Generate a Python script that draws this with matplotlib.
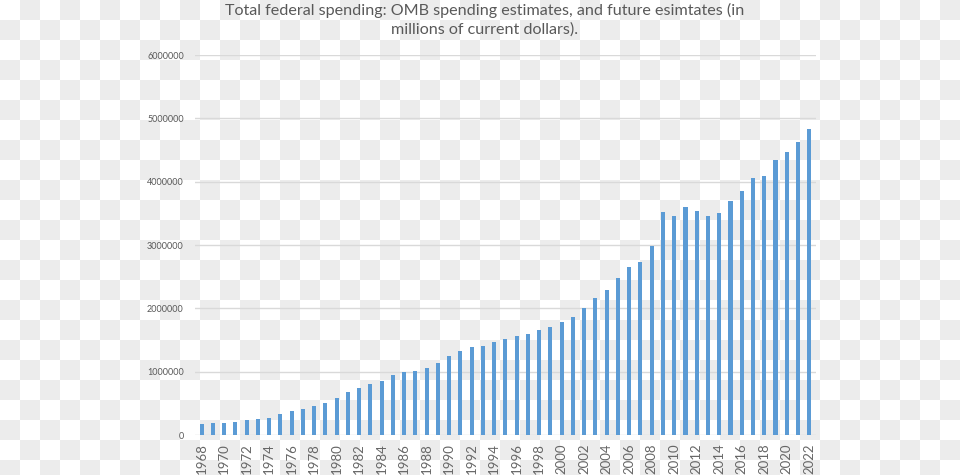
import numpy as np
import matplotlib.pyplot as plt

# total federal outlays, millions of current dollars
years = list(range(1968, 2023))
spending = [178000, 184000, 196000, 210000, 231000, 246000, 269000, 332000,
            372000, 409000, 459000, 504000, 591000, 678000, 746000, 808000,
            852000, 946000, 990000, 1004000, 1064000, 1144000, 1253000, 1324000,
            1382000, 1409000, 1462000, 1516000, 1560000, 1601000, 1652000, 1702000,
            1789000, 1863000, 2011000, 2160000, 2293000, 2472000, 2655000, 2729000,
            2983000, 3518000, 3457000, 3603000, 3537000, 3455000, 3506000, 3688000,
            3852000, 4062000, 4092000, 4345000, 4465000, 4625000, 4830000]
yticks = [0, 1000000, 2000000, 3000000, 4000000, 5000000, 6000000]

plt.rcParams['font.family'] = ['Lato', 'DejaVu Sans']
txt = '#595959'

fig = plt.figure(figsize=(9.6, 4.75), dpi=100)

# checkerboard backdrop (transparent-image look)
r, c = np.indices((475, 960))
checker = np.where(((r // 20) + (c // 20)) % 2 == 1, 0.925, 1.0)
fig.figimage(checker, cmap='gray', vmin=0, vmax=1, origin='upper', zorder=-10)

ax = fig.add_axes([0.203, 0.0842, 0.647, 0.8])
ax.set_zorder(1)
ax.set_facecolor('none')
x = np.arange(len(years))
ax.bar(x, spending, width=0.36, color='#5b9bd5', zorder=3)

ax.set_ylim(0, 6000000)
ax.set_xlim(-0.6, len(years) - 0.4)
ax.set_yticks(yticks)
ax.set_yticklabels([str(v) for v in yticks], fontsize=6.5, color=txt)
ax.set_xticks(x[::2])
ax.set_xticklabels([str(y) for y in years[::2]], rotation=90, fontsize=9.5, color='#666666')
ax.tick_params(axis='both', length=0)
ax.tick_params(axis='y', pad=8)
ax.tick_params(axis='x', pad=6)
ax.grid(axis='y', color='#d9d9d9', linewidth=1, zorder=1)
for s in ax.spines.values():
    s.set_visible(False)

fig.text(0.505, 0.993, 'Total federal spending: OMB spending estimates, and future esimtates (in\nmillions of current dollars).',
         ha='center', va='top', fontsize=11.6, color=txt, linespacing=1.35)

plt.savefig('out.png', dpi=100)
plt.close()
